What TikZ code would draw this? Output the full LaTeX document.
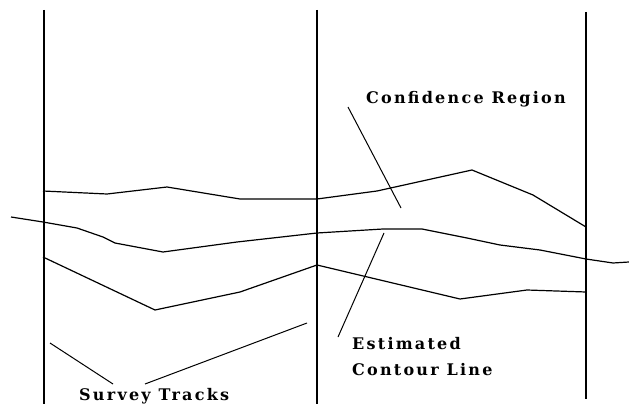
\documentclass[tikz,border=0pt]{standalone}
\usepackage{fontspec}
\newfontfamily\labelfont[LetterSpace=14]{DejaVu Serif}
\begin{document}
\begin{tikzpicture}[x=1pt,y=-1pt,
  track/.style={line width=1.5pt},
  curve/.style={line width=1.2pt, line join=round},
  leader/.style={line width=1pt},
  lbl/.style={inner sep=0pt, anchor=base west, font=\fontsize{16}{20}\selectfont\labelfont\bfseries}]
\useasboundingbox (0,0) rectangle (629,404);

% survey tracks
\coordinate (t1a) at (44,10);  \coordinate (t1b) at (44,404);
\coordinate (t2a) at (317,10); \coordinate (t2b) at (317,404);
\coordinate (t3a) at (586,12); \coordinate (t3b) at (586,399);
\draw[track] (t1a) -- (t1b);
\draw[track] (t2a) -- (t2b);
\draw[track] (t3a) -- (t3b);

% upper edge of the confidence region
\draw[curve] (43,191) -- (107,194) -- (167,187) -- (240,199) -- (317,199)
  -- (377,191) -- (472,170) -- (533,195) -- (586,227);

% estimated contour line
\draw[curve] (11,217) -- (43,222) -- (77,228) -- (103,237) -- (115,243)
  -- (163,252) -- (237,242) -- (317,233) -- (383,229) -- (422,229)
  -- (467,238) -- (500,245) -- (540,250) -- (586,259) -- (613,263) -- (629,262);

% lower edge of the confidence region
\draw[curve] (43,257) -- (155,310) -- (240,292) -- (317,265) -- (460,299)
  -- (527,290) -- (586,292);

% labels
\node[lbl] (conf) at (366,103) {Confidence Region};
\node[lbl] (est) at (352,349) {Estimated};
\node[lbl] (cont) at (352,375) {Contour Line};
\node[lbl] (surv) at (79,400) {Survey Tracks};

% leader lines
\coordinate (c1) at (348,107); \coordinate (c2) at (401,208);
\coordinate (e1) at (384,233); \coordinate (e2) at (338,337);
\coordinate (s1) at (50,343);  \coordinate (s2) at (113,384);
\coordinate (s3) at (145,384); \coordinate (s4) at (307,323);
\draw[leader] (c1) -- (c2);
\draw[leader] (e1) -- (e2);
\draw[leader] (s1) -- (s2);
\draw[leader] (s3) -- (s4);
\end{tikzpicture}
\end{document}
